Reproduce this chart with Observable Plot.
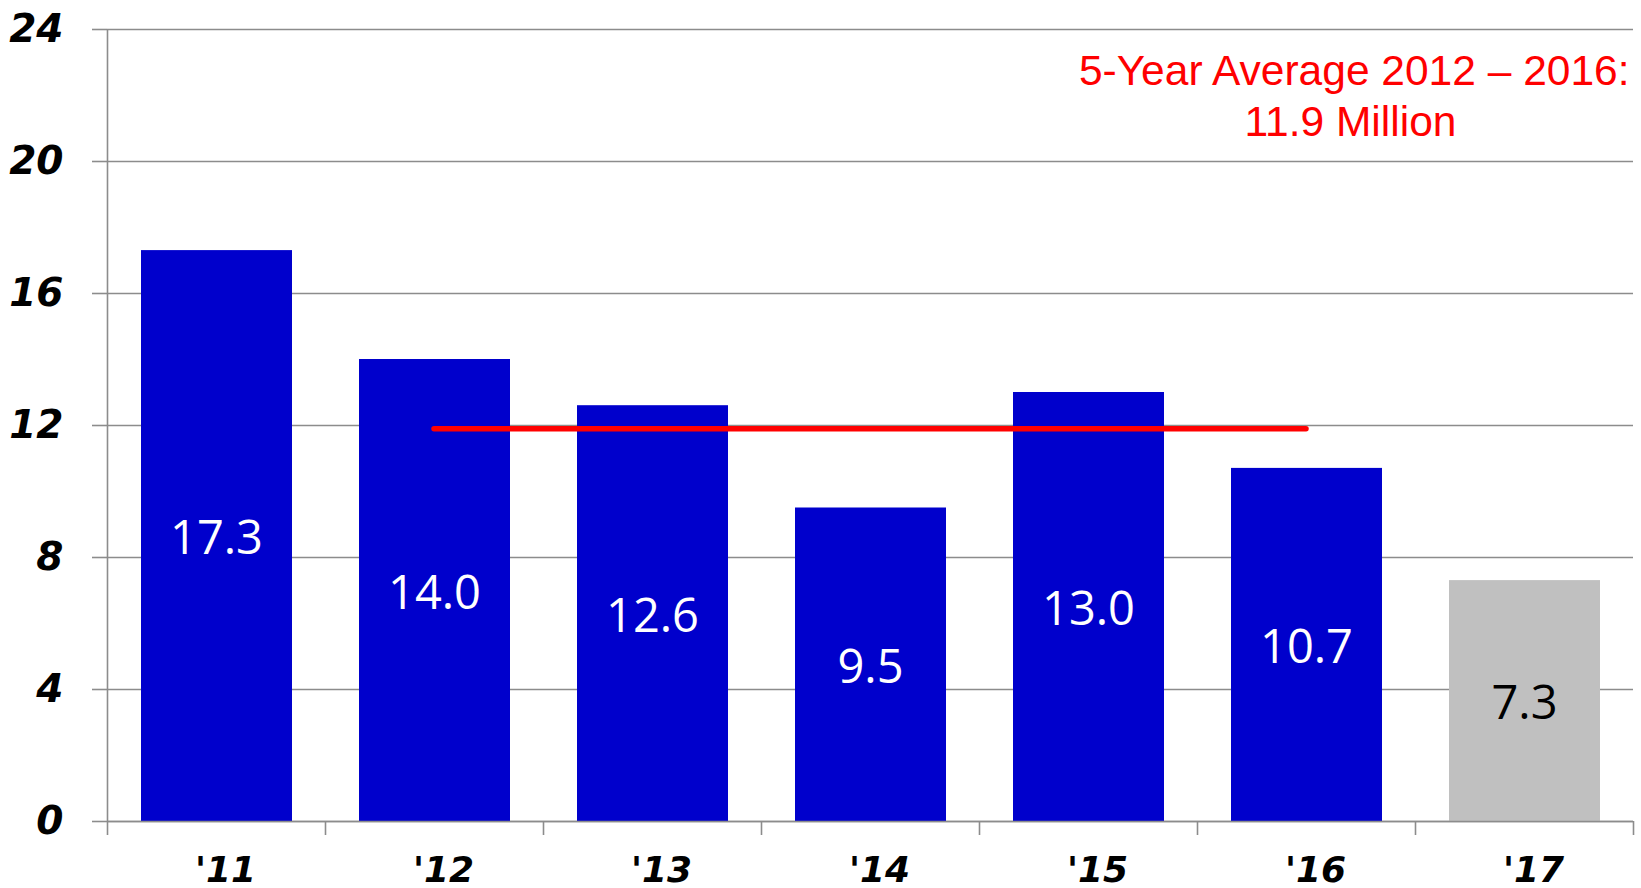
<!DOCTYPE html>
<html><head><meta charset="utf-8">
<script src="https://cdn.jsdelivr.net/npm/d3@7"></script>
<script src="https://cdn.jsdelivr.net/npm/@observablehq/plot@0.6"></script>
<style>body{margin:0;background:#fff}</style>
</head><body><div id="chart"></div>
<script>
const years = ["'11", "'12", "'13", "'14", "'15", "'16", "'17"];
const values = [17.3, 14.0, 12.6, 9.5, 13.0, 10.7, 7.3];
const barColors = ["#0000CC", "#0000CC", "#0000CC", "#0000CC", "#0000CC", "#0000CC", "#C0C0C0"];
const labelColors = ["#FFFFFF", "#FFFFFF", "#FFFFFF", "#FFFFFF", "#FFFFFF", "#FFFFFF", "#000000"];
const yTicks = [0, 4, 8, 12, 16, 20, 24];
const avgValue = 11.9;
const avgFrom = "'12";
const avgTo = "'16";
const avgLine1 = "5-Year Average 2012 \u2013 2016:";
const avgLine2 = "11.9 Million";

const data = years.map((y, i) => ({year: y, i, value: values[i], color: barColors[i], label: labelColors[i]}));
const boundaries = d3.range(years.length + 1);
const centers = years.map((_, i) => i + 0.5);
const avgData = [{x1: years.indexOf(avgFrom) + 0.5, x2: years.indexOf(avgTo) + 0.5, y: avgValue}];

const gridColor = "#8C8C8C";
const axisFont = "DejaVu Sans";

const chart = Plot.plot({
  width: 1641,
  height: 888,
  marginLeft: 107,
  marginRight: 8,
  marginTop: 29,
  marginBottom: 67,
  style: {background: "#fff", overflow: "visible"},
  x: {type: "linear", domain: [0, years.length], axis: null},
  y: {domain: [0, 24], axis: null},
  marks: [
    Plot.gridY(yTicks, {stroke: gridColor, strokeOpacity: 1, strokeWidth: 1.6}),
    Plot.axisY(yTicks, {
      tickSize: 15, tickPadding: 29, stroke: gridColor, strokeWidth: 1.6,
      fill: "#000", fontSize: 39, fontWeight: "bold", fontStyle: "italic", fontFamily: axisFont,
      tickFormat: d => String(d)
    }),
    Plot.rectY(data, {x1: d => d.i, x2: d => d.i + 1, y: "value", fill: d => d.color, insetLeft: 34, insetRight: 33}),
    Plot.ruleX([0], {y1: 0, y2: 24, stroke: gridColor, strokeWidth: 1.6}),
    Plot.ruleY([0], {stroke: gridColor, strokeWidth: 1.6}),
    Plot.axisX(boundaries, {tickSize: 14, stroke: gridColor, strokeWidth: 1.6, tickFormat: () => ""}),
    Plot.axisX(centers, {
      tickSize: 0, tickPadding: 35, fill: "#000", dx: 9,
      fontSize: 36, fontWeight: "bold", fontStyle: "italic", fontFamily: axisFont,
      tickFormat: d => years[Math.floor(d)]
    }),
    Plot.text(data, {
      x: d => d.i + 0.5, y: d => d.value / 2, text: d => d.value.toFixed(1), dy: 3,
      fill: d => d.label, fontSize: 47, fontFamily: "Open Sans", lineAnchor: "middle"
    }),
    Plot.ruleY(avgData, {x1: "x1", x2: "x2", y: "y", stroke: "#FF0000", strokeWidth: 5.5, strokeLinecap: "round"}),
    Plot.text([avgLine1], {
      frameAnchor: "top-right", textAnchor: "end", lineAnchor: "middle", dx: -4, dy: 42,
      fill: "#FF0000", fontSize: 42.5, fontFamily: "Liberation Sans"
    }),
    Plot.text([avgLine2], {
      frameAnchor: "top-right", textAnchor: "middle", lineAnchor: "middle", dx: -283, dy: 93,
      fill: "#FF0000", fontSize: 42.5, fontFamily: "Liberation Sans"
    })
  ]
});
document.getElementById("chart").appendChild(chart);
</script>
</body></html>
